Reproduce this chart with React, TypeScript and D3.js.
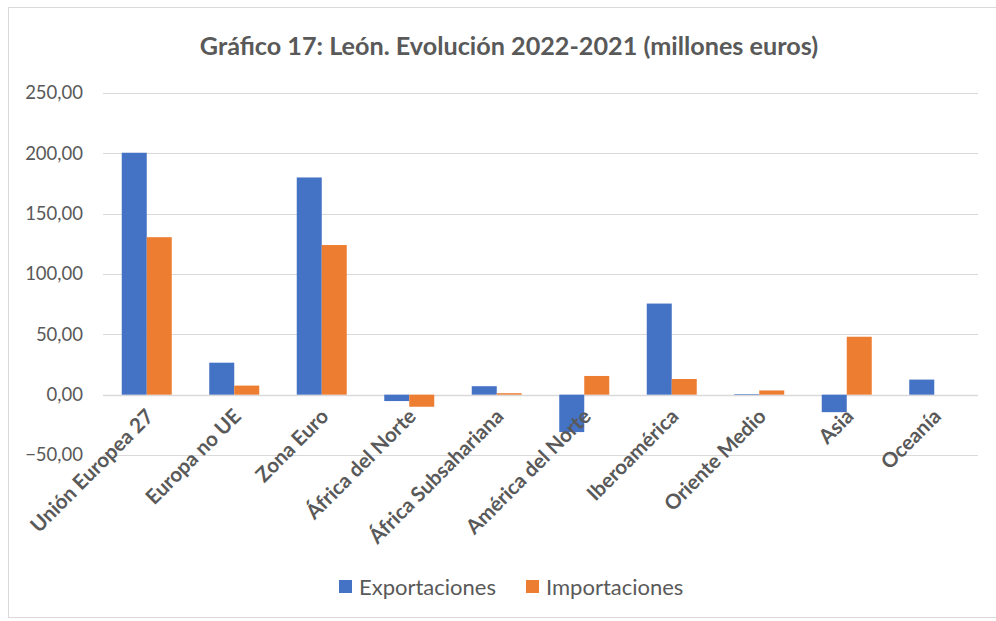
import { useEffect, useRef } from 'react';
import * as d3 from 'd3';

const categories = [
  'Unión Europea 27',
  'Europa no UE',
  'Zona Euro',
  'África del Norte',
  'África Subsahariana',
  'América del Norte',
  'Iberoamérica',
  'Oriente Medio',
  'Asia',
  'Oceanía',
];
const exportaciones = [200.5, 26.5, 180, -5.3, 7, -31, 75.5, 0.5, -14.5, 12.5];
const importaciones = [130.5, 7.5, 124, -10, 1.2, 15.5, 13, 3.5, 48, 0];
const yTicks = [-50, 0, 50, 100, 150, 200, 250];
const seriesNames = ['Exportaciones', 'Importaciones'];
const colors = ['#4472c4', '#ed7d31'];

export default function App() {
  const svgRef = useRef<SVGSVGElement>(null);

  useEffect(() => {
    if (!svgRef.current) return;
    const svg = d3.select(svgRef.current);
    svg.selectAll('*').remove();

    const width = 996;
    const height = 621;
    const font = "Lato, 'Open Sans', sans-serif";
    const grey = '#595959';

    svg.attr('width', width).attr('height', height);

    // chart frame
    svg.append('rect')
      .attr('x', 8.5).attr('y', 7.5)
      .attr('width', width + 10).attr('height', 610)
      .attr('fill', '#fff').attr('stroke', '#d9d9d9');

    const left = 103;
    const right = 978;

    const x = d3.scaleBand<string>().domain(categories).range([left, right]);
    const y = d3.scaleLinear().domain([-50, 250]).range([455, 93]);

    // gridlines
    svg.append('g')
      .selectAll('line')
      .data(yTicks)
      .join('line')
      .attr('x1', left).attr('x2', right)
      .attr('y1', d => Math.round(y(d)) + 0.5)
      .attr('y2', d => Math.round(y(d)) + 0.5)
      .attr('stroke', '#d9d9d9')
      .attr('stroke-width', d => (d === 0 ? 1.5 : 1));

    // y tick labels
    svg.append('g')
      .selectAll('text')
      .data(yTicks)
      .join('text')
      .attr('x', 83)
      .attr('y', d => y(d))
      .attr('dy', '0.35em')
      .attr('text-anchor', 'end')
      .attr('font-family', font)
      .attr('font-size', 18.5)
      .attr('fill', grey)
      .text(d => d3.format('.2f')(d).replace('.', ','));

    const x1 = d3.scaleBand<number>().domain([0, 1]).range([0, x.bandwidth()]).paddingOuter(0.75).paddingInner(0);
    const series = [exportaciones, importaciones];

    series.forEach((vals, si) => {
      svg.append('g')
        .selectAll('rect')
        .data(vals)
        .join('rect')
        .attr('x', (_, i) => (x(categories[i]) ?? 0) + (x1(si) ?? 0))
        .attr('width', x1.bandwidth())
        .attr('y', d => y(Math.max(0, d)))
        .attr('height', d => Math.abs(y(d) - y(0)))
        .attr('fill', colors[si]);
    });

    // category labels
    svg.append('g')
      .selectAll('text')
      .data(categories)
      .join('text')
      .attr('transform', d => `translate(${(x(d) ?? 0) + x.bandwidth() / 2 + 3},${y(0) + 18}) rotate(-45)`)
      .attr('text-anchor', 'end')
      .attr('dy', '0.35em')
      .attr('font-family', font)
      .attr('font-size', 20.5)
      .attr('font-weight', 'bold')
      .attr('fill', grey)
      .text(d => d);

    // title
    svg.append('text')
      .attr('x', 509).attr('y', 55)
      .attr('text-anchor', 'middle')
      .attr('font-family', font)
      .attr('font-size', 25.2)
      .attr('font-weight', 'bold')
      .attr('fill', grey)
      .text('Gráfico 17: León. Evolución 2022-2021 (millones euros)');

    // legend
    const legendX = [339, 526];
    seriesNames.forEach((name, i) => {
      const g = svg.append('g').attr('transform', `translate(${legendX[i]},580)`);
      g.append('rect').attr('width', 13).attr('height', 13).attr('fill', colors[i]);
      g.append('text')
        .attr('x', 20).attr('y', 7)
        .attr('dy', '0.35em')
        .attr('font-family', font)
        .attr('font-size', 22)
        .attr('fill', grey)
        .text(name);
    });
  }, []);

  return (
    <div style={{ position: 'absolute', left: 0, top: 0 }}>
      <svg ref={svgRef}></svg>
    </div>
  );
}
